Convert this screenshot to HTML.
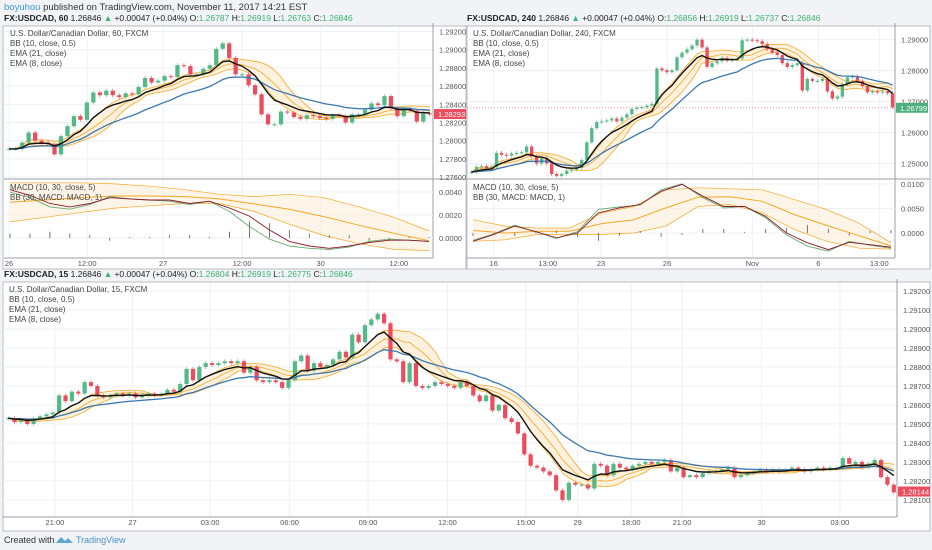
<!DOCTYPE html>
<html><head><meta charset="utf-8">
<style>
html,body{margin:0;padding:0;width:932px;height:550px;overflow:hidden;background:#f1f3f6;font-family:"Liberation Sans",sans-serif;}
svg text{font-family:"Liberation Sans",sans-serif;}
</style></head>
<body>
<svg id="c" width="932" height="550" viewBox="0 0 932 550" xmlns="http://www.w3.org/2000/svg">
<rect x="0" y="0" width="932" height="550" fill="#f1f3f6"/>
<text x="4" y="10" font-size="9.5" fill="#333"><tspan fill="#3a9bd8">boyuhou</tspan> published on TradingView.com, November 11, 2017 14:21 EST</text>
<text x="4" y="21" font-size="8.5" fill="#222"><tspan font-weight="bold">FX:USDCAD, 60</tspan> 1.26846 <tspan fill="#3cb371">▲</tspan> +0.00047 (+0.04%) O:<tspan fill="#3cb371">1.26787</tspan> H:<tspan fill="#3cb371">1.26919</tspan> L:<tspan fill="#3cb371">1.26763</tspan> C:<tspan fill="#3cb371">1.26846</tspan></text>
<text x="467" y="21" font-size="8.5" fill="#222"><tspan font-weight="bold">FX:USDCAD, 240</tspan> 1.26846 <tspan fill="#3cb371">▲</tspan> +0.00047 (+0.04%) O:<tspan fill="#3cb371">1.26856</tspan> H:<tspan fill="#3cb371">1.26919</tspan> L:<tspan fill="#3cb371">1.26737</tspan> C:<tspan fill="#3cb371">1.26846</tspan></text>
<text x="4" y="277" font-size="8.5" fill="#222"><tspan font-weight="bold">FX:USDCAD, 15</tspan> 1.26846 <tspan fill="#3cb371">▲</tspan> +0.00047 (+0.04%) O:<tspan fill="#3cb371">1.26804</tspan> H:<tspan fill="#3cb371">1.26919</tspan> L:<tspan fill="#3cb371">1.26775</tspan> C:<tspan fill="#3cb371">1.26846</tspan></text>
<text x="4" y="543" font-size="9" fill="#333">Created with</text>
<path d="M56 543 l5 -6 l4 4 l3 -3 l5 5 z" fill="#5fa8d3"/>
<text x="76" y="543" font-size="9" fill="#4a90c8">TradingView</text>
<g id="panels"></g>
</svg>
<script>
// ---------- 60 min chart data ----------
const tlCloses=[1.2791,1.2791,1.2798,1.2809,1.2800,1.2798,1.2796,1.2785,1.2805,1.2816,1.2827,1.2823,1.2842,1.2853,1.2850,1.2855,1.2850,1.2848,1.2852,1.2851,1.2859,1.2869,1.2864,1.2866,1.2871,1.2870,1.2883,1.2882,1.2873,1.2873,1.2879,1.2883,1.2901,1.2907,1.2891,1.2873,1.2873,1.2861,1.2851,1.2829,1.2818,1.2818,1.2832,1.2831,1.2826,1.2824,1.2828,1.2827,1.2825,1.2824,1.2828,1.2827,1.2820,1.2829,1.2829,1.2834,1.2841,1.2839,1.2849,1.2836,1.2827,1.2834,1.2833,1.2821,1.2830,1.2829];
const tlMacd=[0.0042,0.0037,0.0030,0.0027,0.0030,0.0035,0.0034,0.0033,0.0033,0.0030,0.0032,0.0026,0.0019,0.0007,-0.0003,-0.0007,-0.0009,-0.0007,-0.0004,-0.0002,-0.0002,-0.0003];
const tlSignal=[0.0040,0.0035,0.0027,0.0025,0.0029,0.0036,0.0034,0.0033,0.0032,0.0029,0.0032,0.0023,0.0010,-0.0001,-0.0007,-0.0009,-0.0010,-0.0008,-0.0003,-0.0001,-0.0002,-0.0003];
const tlBbUpper=[0.0048,0.0048,0.0048,0.0047,0.0045,0.0042,0.0038,0.0036,0.0038,0.0035,0.0027,0.0018,0.0006];
const tlBbLower=[0.0014,0.0018,0.0022,0.0026,0.0028,0.0030,0.0030,0.0023,0.0012,0.0002,-0.0005,-0.0010,-0.0011];
const tlPriceTicks=[1.292,1.290,1.288,1.286,1.284,1.282,1.280,1.278,1.276];
const tlMacdTicks=[0.004,0.002,0];
const tlTimeLabels=["26","12:00","27","12:00","30","12:00"];
const tlTimeFrac=[0.007,0.19,0.368,0.553,0.737,0.92];
// ---------- 240 min chart data ----------
const trCloses=[1.2472,1.2489,1.2491,1.2483,1.2489,1.2534,1.2528,1.2525,1.2532,1.2534,1.2536,1.2555,1.2523,1.2500,1.2517,1.2500,1.2466,1.2460,1.2466,1.2477,1.2480,1.2486,1.2511,1.2568,1.2614,1.2634,1.2636,1.2639,1.2645,1.2636,1.2648,1.2659,1.2676,1.2680,1.2682,1.2687,1.2693,1.2807,1.2801,1.2795,1.2801,1.2843,1.2858,1.2869,1.2881,1.2900,1.2875,1.2812,1.2824,1.2830,1.2841,1.2832,1.2835,1.2839,1.2898,1.2900,1.2898,1.2895,1.2886,1.2869,1.2858,1.2850,1.2824,1.2812,1.2818,1.2824,1.2736,1.2773,1.2767,1.2767,1.2773,1.2733,1.2710,1.2716,1.2756,1.2778,1.2782,1.2767,1.2750,1.2730,1.2733,1.2730,1.2733,1.2727,1.2682];
const trMacd=[-0.0017,-0.0003,0.0014,0.0003,-0.0010,0.0000,0.0041,0.0051,0.0058,0.0085,0.0099,0.0075,0.0054,0.0054,0.0034,0.0000,-0.0020,-0.0034,-0.0019,-0.0024,-0.0029];
const trSignal=[-0.0015,-0.0002,0.0016,0.0002,-0.0011,0.0003,0.0048,0.0053,0.0057,0.0088,0.0100,0.0072,0.0051,0.0054,0.0031,-0.0004,-0.0027,-0.0037,-0.0017,-0.0025,-0.0031];
const trBbUpper=[0.0027,0.0014,0.0010,0.0010,0.0041,0.0054,0.0088,0.0092,0.0090,0.0088,0.0068,0.0048,0.0020,-0.0020];
const trBbLower=[-0.0017,-0.0014,-0.0003,-0.0003,-0.0003,0.0000,0.0014,0.0054,0.0058,0.0041,0.0007,-0.0017,-0.0031,-0.0033];
const trPriceTicks=[1.290,1.280,1.270,1.260,1.250];
const trMacdTicks=[0.01,0.005,0];
const trTimeLabels=["16","13:00","23","26","Nov","6","13:00"];
const trTimeFrac=[0.058,0.185,0.31,0.465,0.665,0.82,0.963];
// ---------- 15 min chart data ----------
const btCloses=[1.2853,1.2851,1.2852,1.2850,1.2853,1.2854,1.2855,1.2856,1.2865,1.2862,1.2867,1.2866,1.2872,1.2870,1.2865,1.2864,1.2865,1.2866,1.2865,1.2866,1.2864,1.2865,1.2866,1.2865,1.2866,1.2868,1.2867,1.2871,1.2879,1.2873,1.2880,1.2882,1.2881,1.2882,1.2883,1.2882,1.2883,1.2877,1.2880,1.2873,1.2872,1.2873,1.2872,1.2869,1.2873,1.2883,1.2886,1.2878,1.2882,1.2880,1.2881,1.2884,1.2888,1.2885,1.2897,1.2893,1.2902,1.2905,1.2908,1.2903,1.2884,1.2883,1.2872,1.2882,1.2870,1.2869,1.2870,1.2872,1.2871,1.2870,1.2869,1.2872,1.2870,1.2865,1.2862,1.2865,1.2857,1.2860,1.2853,1.2851,1.2845,1.2834,1.2828,1.2827,1.2825,1.2823,1.2815,1.2810,1.2819,1.2818,1.2818,1.2816,1.2829,1.2828,1.2823,1.2829,1.2827,1.2826,1.2828,1.2829,1.2830,1.2829,1.2830,1.2831,1.2825,1.2827,1.2822,1.2823,1.2822,1.2824,1.2825,1.2825,1.2826,1.2827,1.2822,1.2823,1.2824,1.2825,1.2826,1.2825,1.2826,1.2825,1.2826,1.2827,1.2826,1.2825,1.2826,1.2827,1.2826,1.2827,1.2827,1.2832,1.2829,1.2830,1.2827,1.2829,1.2831,1.2822,1.2818,1.2814];
const btPriceTicks=[1.292,1.291,1.290,1.289,1.288,1.287,1.286,1.285,1.284,1.283,1.282,1.281];
const btTimeLabels=["21:00","27","03:00","06:00","09:00","12:00","15:00","29","18:00","21:00","30","03:00"];
const btTimeFrac=[0.056,0.143,0.23,0.319,0.407,0.496,0.584,0.642,0.702,0.759,0.848,0.936];

const NS="http://www.w3.org/2000/svg";
const root=document.getElementById('panels');
function mk(tag,attrs,parent){const e=document.createElementNS(NS,tag);for(const k in attrs)e.setAttribute(k,attrs[k]);(parent||root).appendChild(e);return e;}
function ema(a,n){const k=2/(n+1);const o=[];let v=a[0];for(let i=0;i<a.length;i++){v=i?a[i]*k+v*(1-k):a[i];o.push(v);}return o;}
function bb(a,n,m){const up=[],lo=[],mid=[];for(let i=0;i<a.length;i++){const s=a.slice(Math.max(0,i-n+1),i+1);const mu=s.reduce((p,c)=>p+c,0)/s.length;const sd=Math.sqrt(s.reduce((p,c)=>p+(c-mu)*(c-mu),0)/s.length);mid.push(mu);up.push(mu+m*sd);lo.push(mu-m*sd);}return {up,lo,mid};}
const UP="#53b987",DN="#eb4d5c";

function panel(cfg){
  const g=mk('g',{});
  
  
  const bg=mk('rect',{x:cfg.bx,y:cfg.by,width:cfg.bw,height:cfg.bh,fill:'#fff',stroke:'#b8bcc4','stroke-width':1},g);
  
  
  const py=p=>cfg.my1+(cfg.pMax-p)/(cfg.pMax-cfg.pMin)*(cfg.my2-cfg.my1);
  const N=cfg.closes.length, step=(cfg.x1-cfg.x0)/N;
  const cx=i=>cfg.x0+(i+0.5)*step;
  cfg.ticks.forEach(t=>{
    const gl=mk('line',{x1:cfg.x0-2,x2:cfg.x1,y1:py(t),y2:py(t),stroke:'#eef0f3'},g);
    
    
    const tl=mk('text',{x:cfg.x1+6,y:py(t)+3,'font-size':7.5,fill:'#555'},g);
    tl.textContent=t.toFixed(5);
    
    
  });
  cfg.timeLabels.forEach((l,i)=>{
    const x=cfg.x0+cfg.timeFrac[i]*(cfg.x1-cfg.x0);
    const vl=mk('line',{x1:x,x2:x,y1:cfg.my1,y2:cfg.bottomY,stroke:'#eef0f3'},g);
    
    
    const tt=mk('text',{x:x,y:cfg.bottomY+8,'font-size':7.5,fill:'#555','text-anchor':'middle'},g);
    tt.textContent=l;
    
    
  });
  const ax=mk('line',{x1:cfg.x1,x2:cfg.x1,y1:cfg.my1-4,y2:cfg.bottomY,stroke:'#9aa0a8'},g);
  
  
  const tx=mk('line',{x1:cfg.x0-2,x2:cfg.x1,y1:cfg.bottomY,y2:cfg.bottomY,stroke:'#9aa0a8'},g);
  
  
  const b=bb(cfg.closes,10,0.5);
  const path=a=>a.map((v,i)=>(i?'L':'M')+cx(i).toFixed(1)+' '+py(v).toFixed(1)).join(' ');
  const fillD=path(b.up)+' '+b.lo.map((v,i)=>i).reverse().map(i=>'L'+cx(i).toFixed(1)+' '+py(b.lo[i]).toFixed(1)).join(' ')+' Z';
  const bf=mk('path',{d:fillD,fill:'#fde9c8','fill-opacity':0.6},g);
  
  
  [['bb-upper',b.up],['bb-lower',b.lo],['bb-basis',b.mid]].forEach(([n,a])=>{
    const l=mk('path',{d:path(a),fill:'none',stroke:'#f5a623','stroke-width':0.8},g);
    
    
  });
  cfg.closes.forEach((c,i)=>{
    const o=i?cfg.closes[i-1]:c;
    const up=c>=o;
    const top=py(Math.max(o,c)),bot=py(Math.min(o,c));
    const w=mk('line',{x1:cx(i),x2:cx(i),y1:top-2,y2:bot+2,stroke:up?UP:DN,'stroke-width':0.6},g);
    
    
    const r=mk('rect',{x:cx(i)-step*0.33,y:top,width:step*0.66,height:Math.max(1,bot-top),fill:up?UP:DN},g);
    
    
  });
  const e21=mk('path',{d:path(ema(cfg.closes,21)),fill:'none',stroke:'#3c78b0','stroke-width':1.3},g);
  
  
  const e8=mk('path',{d:path(ema(cfg.closes,8)),fill:'none',stroke:'#111','stroke-width':1.4},g);
  
  
  const tag=mk('rect',{x:cfg.x1+1,y:py(cfg.tagPrice)-5,width:cfg.tagW,height:10,fill:cfg.tagColor},g);
  
  
  const tgt=mk('text',{x:cfg.x1+5,y:py(cfg.tagPrice)+3,'font-size':7.5,fill:'#fff'},g);
  tgt.textContent=cfg.tagPrice.toFixed(5);
  
  
  if(cfg.dashed){
    const dl=mk('line',{x1:cfg.x0-2,x2:cfg.x1,y1:py(cfg.tagPrice),y2:py(cfg.tagPrice),stroke:'#e05060','stroke-dasharray':'1,2','stroke-width':0.7},g);
    
    
  }
  cfg.titles.forEach((t,i)=>{
    const tt=mk('text',{x:cfg.x0+4,y:cfg.my1+9+i*10,'font-size':8,fill:'#444'},g);
    tt.textContent=t;
    
    
  });
  if(cfg.macd){
    const M=cfg.macd;
    const sep=mk('line',{x1:cfg.x0-2,x2:cfg.bx+cfg.bw,y1:cfg.my2+1,y2:cfg.my2+1,stroke:'#9aa0a8'},g);
    
    
    const my=v=>M.y0+(M.max-v)/(M.max-M.min)*(M.y1-M.y0);
    const mx=(i,n)=>cfg.x0+4+i*(cfg.x1-cfg.x0-8)/(n-1);
    const mp=a=>a.map((v,i)=>(i?'L':'M')+mx(i,a.length).toFixed(1)+' '+my(v).toFixed(1)).join(' ');
    M.ticks.forEach(t=>{
      const gl=mk('line',{x1:cfg.x0-2,x2:cfg.x1,y1:my(t),y2:my(t),stroke:'#eef0f3'},g);
      
      
      const tl=mk('text',{x:cfg.x1+6,y:my(t)+3,'font-size':7.5,fill:'#555'},g);
      tl.textContent=t.toFixed(4);
      
      
    });
    const mid=M.up.map((v,i)=>(v+M.lo[i])/2);
    const fd=mp(M.up)+' '+M.lo.map((v,i)=>i).reverse().map(i=>'L'+mx(i,M.lo.length).toFixed(1)+' '+my(M.lo[i]).toFixed(1)).join(' ')+' Z';
    const f=mk('path',{d:fd,fill:'#fdebd3','fill-opacity':0.5},g);
    
    
    [['macd-bb-upper',M.up,0.7],['macd-bb-lower',M.lo,0.7],['macd-bb-basis',mid,1]].forEach(([n,a,w])=>{
      const l=mk('path',{d:mp(a),fill:'none',stroke:'#f5a623','stroke-width':w},g);
      
      
    });
    M.m.forEach((v,i)=>{
      const h=(v-M.s[i])*M.hs;
      const x=mx(i,M.m.length);
      const hb=mk('line',{x1:x,x2:x,y1:my(0),y2:my(0)-h/(M.max-M.min)*(M.y1-M.y0)-(h>=0?1:-1),stroke:'#555','stroke-width':0.8},g);
      
      
    });
    const sg=mk('path',{d:mp(M.s),fill:'none',stroke:'#6aaa70','stroke-width':0.9},g);
    
    
    const ml=mk('path',{d:mp(M.m),fill:'none',stroke:'#8b1a2b','stroke-width':0.9},g);
    
    
    ['MACD (10, 30, close, 5)','BB (30, MACD: MACD, 1)'].forEach((t,i)=>{
      const tt=mk('text',{x:cfg.x0+4,y:M.y0+10+i*10,'font-size':8,fill:'#444'},g);
      tt.textContent=t;
      
      
    });
  }
}

panel({name:'chart-60min',bx:3,by:26,bw:463,bh:243,x0:6,x1:433,my1:27,my2:178,bottomY:258,pMax:1.2925,pMin:1.2759,
  closes:tlCloses,ticks:tlPriceTicks,timeLabels:tlTimeLabels,timeFrac:tlTimeFrac,tagPrice:1.28293,tagColor:'#eb4d5c',tagW:32,
  titles:['U.S. Dollar/Canadian Dollar, 60, FXCM','BB (10, close, 0.5)','EMA (21, close)','EMA (8, close)'],
  macd:{y0:180,y1:256,max:0.00504,min:-0.00157,m:tlMacd,s:tlSignal,up:tlBbUpper,lo:tlBbLower,ticks:tlMacdTicks,hs:1.5}});
panel({name:'chart-240min',bx:467,by:26,bw:463,bh:243,x0:469,x1:895,my1:27,my2:178,bottomY:258,pMax:1.2941,pMin:1.2453,
  closes:trCloses,ticks:trPriceTicks,timeLabels:trTimeLabels,timeFrac:trTimeFrac,tagPrice:1.26799,tagColor:'#4caf7d',tagW:32,dashed:true,
  titles:['U.S. Dollar/Canadian Dollar, 240, FXCM','BB (10, close, 0.5)','EMA (21, close)','EMA (8, close)'],
  macd:{y0:180,y1:256,max:0.0108,min:-0.0047,m:trMacd,s:trSignal,up:trBbUpper,lo:trBbLower,ticks:trMacdTicks,hs:2}});
panel({name:'chart-15min',bx:3,by:282,bw:927,bh:249,x0:5,x1:897,my1:283,my2:517,bottomY:517,pMax:1.29242,pMin:1.2801,
  closes:btCloses,ticks:btPriceTicks,timeLabels:btTimeLabels,timeFrac:btTimeFrac,tagPrice:1.28144,tagColor:'#eb4d5c',tagW:32,
  titles:['U.S. Dollar/Canadian Dollar, 15, FXCM','BB (10, close, 0.5)','EMA (21, close)','EMA (8, close)']});
</script>
</body></html>
